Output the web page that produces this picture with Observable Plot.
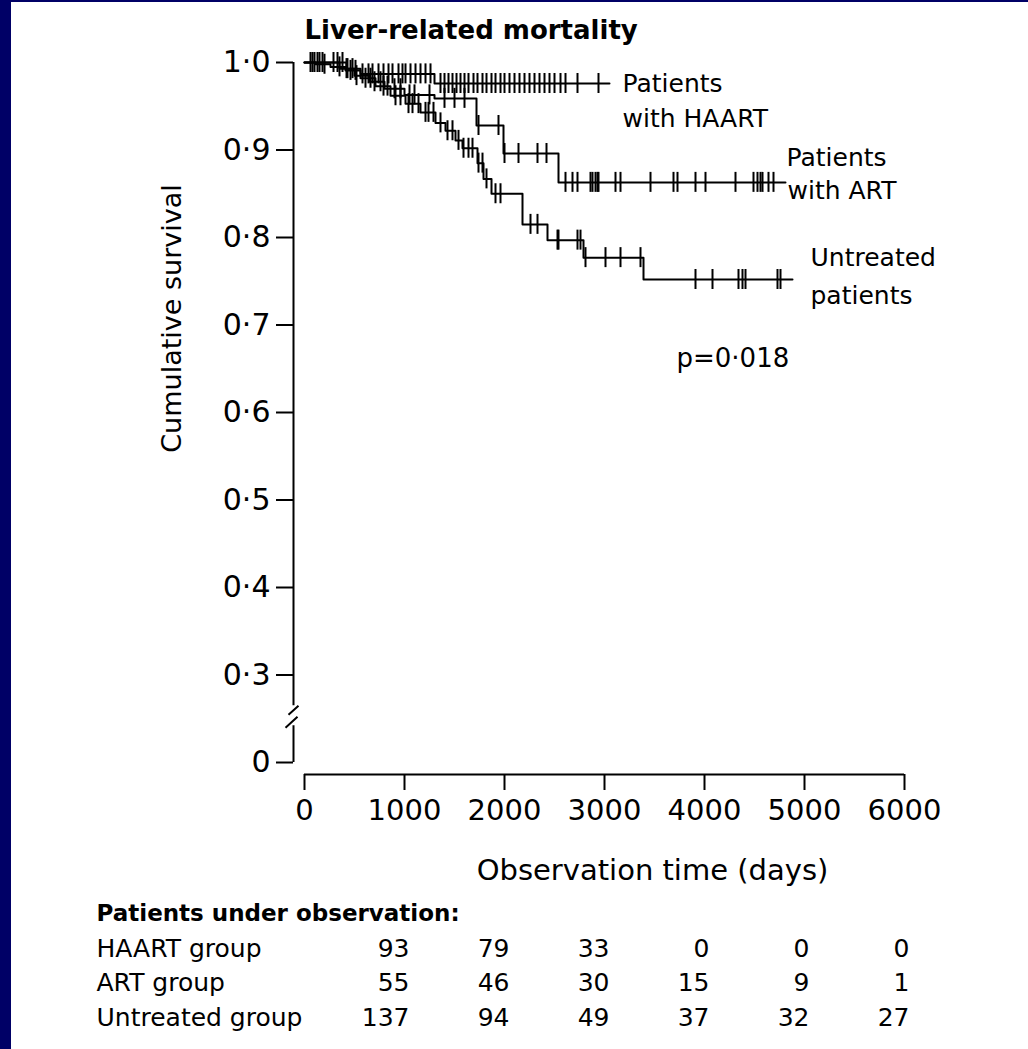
<!DOCTYPE html>
<html style="background:#ffffff"><head><meta charset="utf-8">
<script src="https://cdn.jsdelivr.net/npm/d3@7"></script>
<script src="https://cdn.jsdelivr.net/npm/@observablehq/plot@0.6"></script>
<style>
html,body{margin:0;padding:0;background:#ffffff;overflow:hidden;width:1028px;height:1049px;}
#chart{position:fixed;left:0;top:0;width:1028px;height:1049px;background:#ffffff;}
.barL{position:fixed;left:0;top:0;width:11px;height:1049px;background:#000066;z-index:5;}
.barT{position:fixed;left:0;top:0;width:1028px;height:2px;background:#000066;z-index:5;}
</style></head>
<body><div id="chart"></div><div class="barL"></div><div class="barT"></div>
<script>
// ---- axes ----
const yTicks = [0.2, 0.3, 0.4, 0.5, 0.6, 0.7, 0.8, 0.9, 1.0];
const yTickLabels = ["0", "0·3", "0·4", "0·5", "0·6", "0·7", "0·8", "0·9", "1·0"];
const xTicks = [0, 1000, 2000, 3000, 4000, 5000, 6000];
const axisBreak = [0.242, 0.265];

// ---- Kaplan-Meier curves (time in days, cumulative survival) ----
const haartStepTimes = [0, 420, 560, 1300];
const haartStepSurv  = [1.0, 0.993, 0.987, 0.976];
const haartEnd = 3050;
const haartCensor = [80,130,180,290,330,380,430,480,580,640,680,740,790,840,880,940,980,1010,1060,1110,1160,1210,1260,
  1360,1400,1440,1480,1520,1560,1600,1640,1690,1730,1780,1820,1870,1910,1960,2000,2050,2100,2150,2200,2250,2300,2350,
  2400,2450,2500,2560,2610,2730,2940];

const artStepTimes = [0, 350, 500, 650, 800, 1000, 1300, 1720, 1990, 2540];
const artStepSurv  = [1.0, 0.993, 0.985, 0.978, 0.970, 0.963, 0.959, 0.928, 0.896, 0.863];
const artEnd = 4810;
const artCensor = [100,150,420,520,700,760,900,960,1050,1100,1250,1400,1500,1600,1740,1940,2000,2140,2330,2420,
  2610,2680,2730,2860,2880,2910,2930,2940,3110,3160,3460,3690,3730,3910,4010,4310,4490,4530,4560,4580,4640,4690];

const untrStepTimes = [0, 110, 260, 410, 560, 710, 860, 1010, 1160, 1310, 1410, 1510, 1580, 1730, 1790, 1870, 2180, 2430, 2790, 3390];
const untrStepSurv  = [1.0, 0.998, 0.995, 0.991, 0.982, 0.973, 0.962, 0.953, 0.943, 0.931, 0.922, 0.911, 0.902, 0.885, 0.867, 0.850, 0.815, 0.797, 0.777, 0.752];
const untrEnd = 4880;
const untrCensor = [60,200,350,460,510,610,660,790,830,910,960,1040,1080,1140,1210,1240,1290,1360,1430,1480,1540,1590,
  1640,1680,1740,1780,1820,1910,1960,2260,2330,2530,2540,2730,2760,2810,3010,3160,3360,3910,4080,4340,4380,4410,4730,4760];

// ---- numbers at risk ----
const riskTimes = [1000, 2000, 3000, 4000, 5000, 6000];
const riskGroups = ["HAART group", "ART group", "Untreated group"];
const haartN = [93, 79, 33, 0, 0, 0];
const artN = [55, 46, 30, 15, 9, 1];
const untrN = [137, 94, 49, 37, 32, 27];
const pValueText = "p=0·018";

// ---- helpers ----
function curve(times, surv, end) {
  const pts = times.map((t, i) => ({t, s: surv[i]}));
  pts.push({t: end, s: surv[surv.length - 1]});
  return pts;
}
function survAt(times, surv, t) {
  let s = surv[0];
  for (let i = 0; i < times.length; i++) if (times[i] <= t) s = surv[i];
  return s;
}
function censor(times, surv, cens) {
  return cens.map(t => ({t, s: survAt(times, surv, t)}));
}
const haartCurve = curve(haartStepTimes, haartStepSurv, haartEnd);
const artCurve = curve(artStepTimes, artStepSurv, artEnd);
const untrCurve = curve(untrStepTimes, untrStepSurv, untrEnd);
const lastOf = a => a[a.length - 1].s;

const breakSymbol = {
  draw(ctx) {
    ctx.moveTo(5, -10); ctx.lineTo(-5, -1);
    ctx.moveTo(4, 1); ctx.lineTo(-8, 12);
  }
};

const F = "DejaVu Sans, sans-serif";
const lineStyle = {stroke: "black", strokeWidth: 2};
const tickStyle = {stroke: "black", strokeWidth: 2, insetTop: -10, insetBottom: -10};
const txt = {lineAnchor: "middle", fill: "black"};

const marks = [
  // axes
  Plot.ruleX([0], {y1: 1.0, y2: axisBreak[1], dx: -11, ...lineStyle}),
  Plot.ruleX([0], {y1: axisBreak[0], y2: 0.2, dx: -11, ...lineStyle}),
  Plot.dot([(axisBreak[0] + axisBreak[1]) / 2], {x: 0, y: d => d, dx: -11, symbol: breakSymbol, stroke: "black", strokeWidth: 2, fill: "none"}),
  Plot.axisY(yTicks, {tickSize: 17, tickPadding: 6, dx: -11, strokeWidth: 2, fontSize: 30, label: null,
    tickFormat: d => yTickLabels[yTicks.findIndex(v => Math.abs(v - d) < 1e-9)]}),
  Plot.ruleY([0.2], {x1: 0, x2: 6000, dy: 12, ...lineStyle}),
  Plot.axisX(xTicks, {tickSize: 16, tickPadding: 9, dy: 12, strokeWidth: 2, fontSize: 29, label: null,
    tickFormat: d => String(d)}),

  // curves
  Plot.line(haartCurve, {x: "t", y: "s", curve: "step-after", ...lineStyle}),
  Plot.line(artCurve, {x: "t", y: "s", curve: "step-after", ...lineStyle}),
  Plot.line(untrCurve, {x: "t", y: "s", curve: "step-after", ...lineStyle}),
  Plot.ruleX(censor(haartStepTimes, haartStepSurv, haartCensor), {x: "t", y1: "s", y2: "s", ...tickStyle}),
  Plot.ruleX(censor(artStepTimes, artStepSurv, artCensor), {x: "t", y1: "s", y2: "s", ...tickStyle}),
  Plot.ruleX(censor(untrStepTimes, untrStepSurv, untrCensor), {x: "t", y1: "s", y2: "s", ...tickStyle}),

  // curve labels
  Plot.text(["Patients"], {x: haartEnd, y: lastOf(haartCurve), dx: 13, textAnchor: "start", fontSize: 25, ...txt}),
  Plot.text(["with HAART"], {x: haartEnd, y: lastOf(haartCurve), dx: 13, dy: 35, textAnchor: "start", fontSize: 25, ...txt}),
  Plot.text(["Patients"], {x: artEnd, y: lastOf(artCurve), dx: 1, dy: -24, textAnchor: "start", fontSize: 25, ...txt}),
  Plot.text(["with ART"], {x: artEnd, y: lastOf(artCurve), dx: 2, dy: 9, textAnchor: "start", fontSize: 25, ...txt}),
  Plot.text(["Untreated"], {x: untrEnd, y: lastOf(untrCurve), dx: 18, dy: -22, textAnchor: "start", fontSize: 25, ...txt}),
  Plot.text(["patients"], {x: untrEnd, y: lastOf(untrCurve), dx: 18, dy: 16, textAnchor: "start", fontSize: 25, ...txt}),
  Plot.text([pValueText], {x: 3720, y: 0.662, textAnchor: "start", fontSize: 26, ...txt}),

  // titles
  Plot.text(["Liver-related mortality"], {frameAnchor: "top-left", dy: -32, textAnchor: "start", fontSize: 26, fontWeight: "bold", ...txt}),
  Plot.text(["Cumulative survival"], {frameAnchor: "left", dx: -132, dy: -94, rotate: -90, textAnchor: "middle", fontSize: 27, ...txt}),
  Plot.text(["Observation time (days)"], {frameAnchor: "bottom", dx: 48, dy: 108, textAnchor: "middle", fontSize: 29, ...txt}),

  // numbers at risk table
  Plot.text(["Patients under observation:"], {frameAnchor: "bottom-left", dx: -208, dy: 151, textAnchor: "start", fontSize: 23, fontWeight: "bold", ...txt}),
];
const rowDy = [186, 220, 255];
[haartN, artN, untrN].forEach((row, r) => {
  marks.push(Plot.text([riskGroups[r]], {frameAnchor: "bottom-left", dx: -208, dy: rowDy[r], textAnchor: "start", fontSize: 25, ...txt}));
  marks.push(Plot.text(row, {x: (d, i) => riskTimes[i], frameAnchor: "bottom", dx: 5, dy: rowDy[r], textAnchor: "end", fontSize: 25, ...txt}));
});

const chart = Plot.plot({
  width: 1028,
  height: 1049,
  marginLeft: 304,
  marginRight: 124,
  marginTop: 62,
  marginBottom: 287,
  x: {domain: [0, 6000]},
  y: {domain: [0.2, 1.0]},
  style: {fontFamily: F, fontSize: "25px", color: "black", background: "#ffffff", overflow: "visible"},
  marks
});
document.getElementById("chart").appendChild(chart);
</script></body></html>
